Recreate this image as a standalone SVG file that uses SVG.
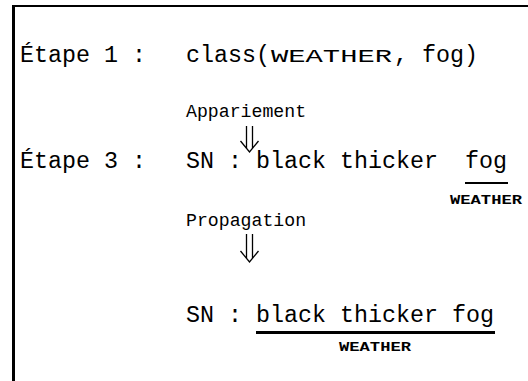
<svg xmlns="http://www.w3.org/2000/svg" width="528" height="381" viewBox="0 0 528 381">
<style>
text{font-family:"Liberation Mono","DejaVu Sans Mono",monospace;fill:#000}
.m{font-size:23.33px}
.sc{font-size:18px}
.lab{font-size:18.2px}
.tag{font-size:13px;font-weight:bold}
.arr{fill:none;stroke:#000;stroke-width:1.3}
.ul{fill:#000}
</style>
<g id="frame">
<rect x="12" y="5" width="516" height="2"/>
<rect x="12" y="5" width="3" height="376"/>
</g>
<g id="step1">
<text class="m" x="20" y="62">Étape 1 :</text>
<text class="m" x="186" y="62">class(</text>
<text class="sc" x="271" y="62" textLength="121" lengthAdjust="spacingAndGlyphs">WEATHER</text>
<text class="m" x="394" y="62">, fog)</text>
</g>
<g id="step3">
<text class="m" x="20" y="168">Étape 3 :</text>
<text class="m" x="186" y="168">SN : black thicker</text>
<text class="m" x="465" y="168">fog</text>
<rect class="ul" x="465" y="182" width="43" height="2"/>
<text class="tag" x="450" y="204" textLength="72" lengthAdjust="spacingAndGlyphs">WEATHER</text>
</g>
<g id="result">
<text class="m" x="186" y="322">SN : black thicker fog</text>
<rect class="ul" x="256" y="331" width="239" height="3"/>
<text class="tag" x="339" y="351" textLength="72" lengthAdjust="spacingAndGlyphs">WEATHER</text>
</g>
<g id="connectors">
<text class="lab" x="186" y="117">Appariement</text>
<path class="arr" d="M246.5,126V148M252.5,126V148M240.5,141L249.5,152L258.5,141"/>
<text class="lab" x="186" y="226">Propagation</text>
<path class="arr" d="M246.5,234V258M252.5,234V258M240.5,251L249.5,262L258.5,251"/>
</g>
</svg>
